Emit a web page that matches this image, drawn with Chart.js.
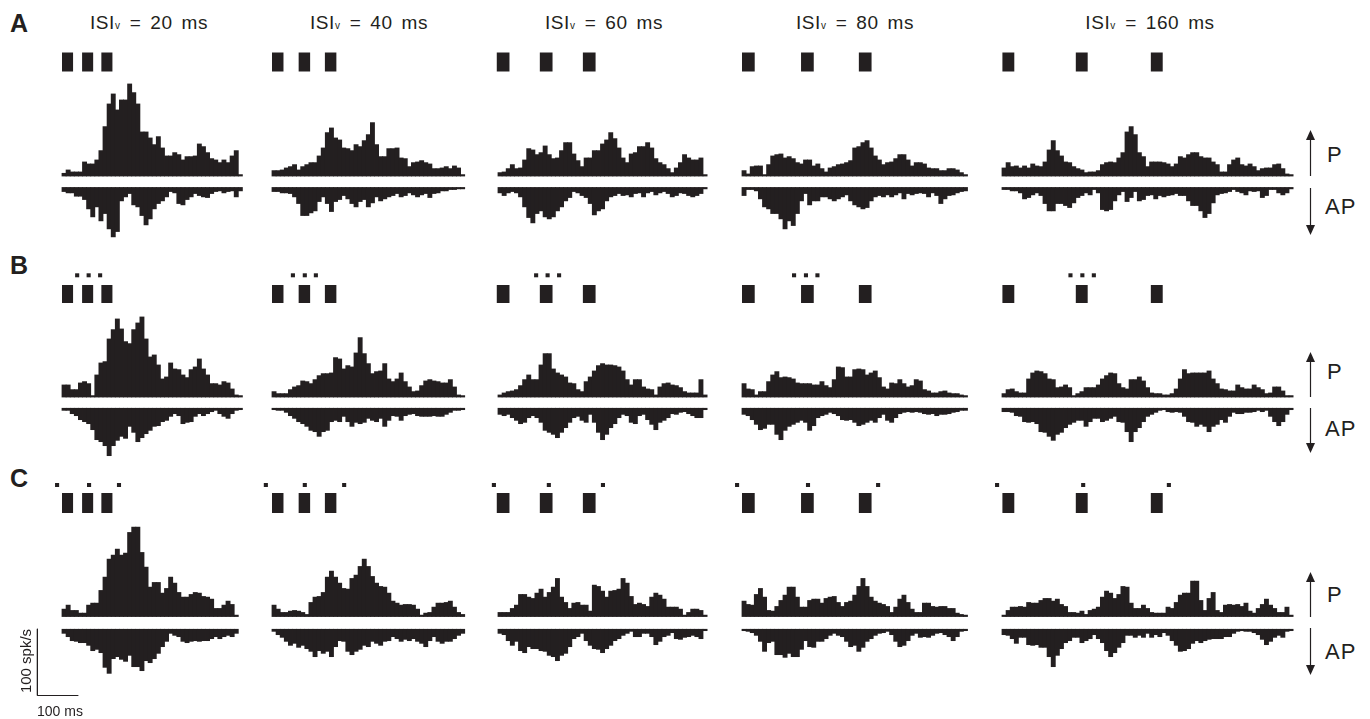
<!DOCTYPE html>
<html>
<head>
<meta charset="utf-8">
<script src="https://cdn.jsdelivr.net/npm/chart.js@4.4.1/dist/chart.umd.min.js"></script>
<style>
  body { margin: 0; background: #fff; }
  #fig { position: relative; width: 1370px; height: 719px; overflow: hidden;
         font-family: 'Liberation Sans', Arial, sans-serif; color: #231f20; }
  #fig canvas { position: absolute; }
  #fig svg { position: absolute; left: 0; top: 0; }
  .lbl { position: absolute; white-space: nowrap; line-height: 1; }
  .title { font-size: 19px; letter-spacing: 0.6px; word-spacing: 3px; transform: translateX(-50%); }
  .title .v { font-size: 10px; letter-spacing: 0; margin-right: 1px; }
  .row { font-size: 25px; font-weight: bold; }
  .dir { font-size: 22px; letter-spacing: 1px; }
  .scale { font-size: 14px; }
  .scale.rot { font-size: 15px; transform: translate(-50%, -50%) rotate(-90deg); }
</style>
</head>
<body>
<div id="fig">
  <svg id="arrows" width="1370" height="719"></svg>
</div>
<script>
// ---- data (spk/s per 10 ms bin) ----
const BIN_MS = 10;
const isiValues = [20, 40, 60, 80, 160];

// stimulus onsets (ms from start of histogram) and duration, one per column
const stimOnsets = [[0, 49, 96], [0, 65, 129], [-3, 102, 207], [0, 144, 285], [1, 180, 363]];
const stimDur = [27, 28, 31, 31, 29];
// small markers above the stimuli (centre, ms)
const dotsB = [[37, 65, 93], [51, 80, 107], [93, 121, 149], [127, 156, 184], [167, 196, 224]];
const dotsC = [[-12, 66, 139], [-15, 80, 176], [-10, 124, 256], [-12, 161, 332], [-12, 198, 407]];

// row A
const pA1 = [4,9,6,6,6,21,18,18,24,38,74,108,123,99,114,114,138,125,108,66,66,57,47,59,42,30,30,35,32,24,29,29,30,48,44,35,26,24,20,24,20,30,38,2];
const apA1 = [6,8,8,13,13,18,32,44,29,50,39,62,74,66,20,14,9,26,29,42,56,47,32,24,20,14,6,8,24,26,18,14,9,12,14,15,9,6,5,8,6,5,14,5];
const pA2 = [8,8,9,12,14,17,9,14,17,20,20,30,42,65,72,57,54,42,41,38,47,44,53,62,80,47,29,29,41,41,42,27,26,14,20,21,23,20,18,11,11,12,14,11,15,12,2];
const apA2 = [6,6,8,8,9,14,24,42,42,38,35,21,14,24,36,21,18,12,17,24,29,21,18,29,23,14,20,17,14,12,9,14,12,8,11,14,11,9,15,9,8,5,5,3,3,2,2];
const pA3 = [5,6,11,17,11,12,24,41,39,32,35,45,32,26,27,38,50,50,33,23,14,27,27,38,38,48,54,65,56,42,27,20,33,35,44,44,50,42,26,20,17,11,5,12,20,32,27,24,24,27,2];
const apA3 = [8,12,8,6,8,14,29,45,53,39,35,44,47,44,35,29,20,15,6,8,12,15,24,41,35,32,20,14,12,9,12,11,14,9,8,14,8,6,11,8,6,9,14,12,8,9,12,14,12,9,2];
const pA4 = [8,3,14,15,15,2,17,30,32,33,27,29,26,20,18,24,24,15,18,11,6,12,14,17,18,20,23,42,44,50,53,42,30,24,17,20,21,26,32,32,24,15,20,20,18,12,11,11,8,8,11,11,9,5,2];
const apA4 = [12,3,3,5,17,29,32,39,39,47,62,50,57,39,20,9,26,20,20,14,14,17,20,17,14,11,20,26,29,32,30,20,14,12,14,11,14,11,8,17,9,11,9,8,9,14,8,12,24,17,12,11,8,6,5];
const pA5 = [12,20,14,15,12,15,12,18,15,14,21,39,53,38,30,21,20,14,11,9,5,6,6,8,17,20,21,20,27,35,66,74,62,35,29,14,21,21,21,20,18,14,18,29,27,32,35,35,29,27,27,21,17,6,6,17,24,27,17,15,18,14,8,11,12,12,17,18,11,3,2];
const apA5 = [3,3,5,5,8,17,15,11,8,12,24,35,35,24,24,27,30,23,15,12,8,11,3,8,33,35,33,20,11,6,21,15,6,20,18,12,11,17,12,14,12,11,9,12,12,20,27,27,35,45,39,23,11,9,8,6,3,6,8,11,5,6,5,15,12,3,3,8,11,8,2];

// row B
const pB1 = [18,18,11,11,21,23,20,2,33,51,53,87,101,117,102,83,80,101,111,120,87,60,63,48,27,30,51,42,41,33,29,41,45,57,42,33,20,20,18,23,21,12,3,2];
const apB1 = [3,3,8,11,17,20,23,32,47,50,56,71,56,48,42,45,27,36,50,44,38,33,27,26,20,18,12,8,11,23,21,20,12,8,11,8,5,3,8,12,15,8,3,2];
const pB2 = [8,5,5,5,11,15,17,24,23,20,26,32,35,35,36,59,57,42,47,45,66,89,65,50,35,38,39,50,27,23,27,36,23,15,8,9,17,24,26,24,23,21,21,26,15,3,2];
const apB2 = [2,3,3,6,11,15,20,23,27,33,35,42,35,33,20,18,20,12,20,27,21,23,21,15,18,20,15,27,18,11,12,18,11,9,8,11,12,12,12,11,12,12,9,6,3,3,2];
const pB3 = [3,6,8,9,11,17,26,33,26,26,48,65,65,42,36,33,30,21,20,11,8,23,30,39,47,50,48,48,47,45,39,26,18,26,26,15,12,11,3,15,20,21,18,17,14,8,6,6,6,26,3];
const apB3 = [9,11,9,14,18,23,21,14,11,14,21,33,36,39,44,36,29,21,14,12,18,21,9,21,36,47,39,29,23,14,9,11,21,23,11,9,17,24,32,21,18,14,8,9,6,5,8,11,14,14,2];
const pB4 = [20,12,11,3,8,8,23,33,38,29,30,29,27,21,20,20,20,18,18,23,17,14,26,45,44,30,30,41,42,41,33,36,39,29,15,12,21,20,26,20,15,17,26,24,11,9,6,6,8,9,6,5,5,3,2];
const apB4 = [9,11,17,24,32,30,24,24,39,47,33,27,24,21,18,21,33,26,14,11,9,6,8,11,17,18,17,21,26,24,21,18,21,14,9,18,21,14,8,6,5,6,5,6,8,9,8,11,9,9,8,6,5,3,3];
const pB5 = [5,11,12,8,6,6,27,36,39,38,35,27,26,14,15,18,14,2,5,8,14,14,14,18,27,32,36,35,20,14,12,26,26,30,24,14,6,5,5,3,3,5,12,27,41,35,36,36,36,36,39,27,20,12,11,9,9,18,14,12,12,18,14,11,5,6,15,15,9,2,2];
const apB5 = [5,5,6,11,12,20,21,20,23,35,36,42,48,39,36,29,24,21,18,18,27,20,15,15,20,18,15,12,20,21,35,50,35,29,20,12,9,6,3,2,5,6,5,6,12,20,21,27,24,27,35,27,24,17,21,12,6,8,8,6,6,5,3,5,3,12,20,26,20,9,2];

// row C
const pC1 = [11,17,9,9,5,5,17,20,20,39,59,86,92,101,92,95,126,134,134,96,74,44,51,51,35,42,59,50,36,29,29,33,36,35,30,29,26,12,12,17,23,18,2];
const apC1 = [6,11,17,18,20,20,24,32,30,35,57,66,44,41,45,48,39,56,56,62,47,50,44,36,26,18,6,9,11,18,20,18,17,18,17,17,14,11,14,11,9,11,6];
const pC2 = [17,11,6,6,8,9,8,6,3,21,29,30,36,59,68,59,50,42,41,57,62,75,86,75,60,50,45,44,35,23,20,17,18,18,17,11,2,5,6,14,20,20,21,23,14,6,3];
const apC2 = [3,8,12,18,24,21,27,24,29,33,41,32,36,33,41,26,17,18,33,38,33,30,24,26,18,21,24,18,17,11,14,18,15,17,14,18,21,26,17,11,18,21,18,18,14,9,6];
const pC3 = [6,6,6,12,17,33,33,29,27,35,41,29,36,44,57,29,21,12,20,21,17,17,8,47,45,38,29,38,39,41,57,50,30,18,20,18,15,29,35,32,26,14,14,14,11,2,6,11,11,9,2];
const apC3 = [6,8,17,24,18,32,35,26,29,29,32,33,39,41,47,39,36,26,14,11,6,17,24,29,30,35,29,24,17,14,9,6,3,11,11,6,6,11,23,18,11,9,5,14,15,12,11,9,11,14,2];
const pC4 = [23,18,17,33,42,29,9,8,15,24,32,44,44,29,14,14,24,26,26,20,27,29,30,21,15,21,23,32,45,57,45,29,23,20,18,15,6,14,26,32,21,11,6,6,20,20,15,14,15,15,12,12,5,3,2];
const apC4 = [2,3,5,9,18,33,20,18,38,38,42,36,41,41,30,17,26,27,18,18,14,9,6,9,11,18,26,24,33,27,18,14,9,6,5,3,8,18,26,24,17,9,6,12,11,12,9,6,5,8,11,17,11,3,2];
const pC5 = [2,9,14,14,15,14,21,20,20,24,27,27,23,26,18,15,6,6,5,8,3,9,11,14,29,38,35,27,33,45,44,20,12,12,17,12,6,5,5,5,14,12,21,32,35,35,53,53,24,9,27,36,9,6,17,18,17,18,15,20,8,5,12,18,26,17,12,6,6,14,2];
const apC5 = [8,9,14,21,12,12,23,24,23,27,27,41,56,39,29,20,17,12,12,20,17,14,8,14,20,32,41,35,27,20,9,9,12,9,12,6,12,8,11,5,9,17,24,33,32,29,21,17,20,17,15,14,14,14,11,11,6,3,2,3,3,5,8,15,23,18,12,9,12,3,2];

const histP = [[pA1, pA2, pA3, pA4, pA5], [pB1, pB2, pB3, pB4, pB5], [pC1, pC2, pC3, pC4, pC5]];
const histAP = [[apA1, apA2, apA3, apA4, apA5], [apB1, apB2, apB3, apB4, apB5], [apC1, apC2, apC3, apC4, apC5]];

// ---- layout ----
const INK = '#231f20';
const PX_PER_MS = 0.41;
const PX_PER_RATE = 1 / 1.5;      // 100 spk/s is about 67 px
const colStart = [62, 272, 498, 742, 1002];
const titleX = [149, 369, 604, 855, 1150];
const rows = [
  { name: 'A', top: 40,  height: 205, base: 176,   apBase: 187.5, stimY: 62,  stimH: 19, dots: null,  dotY: 0,     letterTop: 11,  pTop: 144, apTop: 196, arrow: [130, 176, 188, 235] },
  { name: 'B', top: 262, height: 200, base: 397,   apBase: 408.3, stimY: 294, stimH: 18, dots: dotsB, dotY: 275.3, letterTop: 253, pTop: 361, apTop: 418, arrow: [352, 397, 408, 453] },
  { name: 'C', top: 475, height: 227, base: 616.5, apBase: 629.3, stimY: 503, stimH: 20, dots: dotsC, dotY: 485,   letterTop: 466, pTop: 584, apTop: 641, arrow: [572, 617, 628, 675] }
];

const fig = document.getElementById('fig');

function segment(x0, x1, y, width) {
  return {
    type: 'line',
    data: [{ x: x0, y: y }, { x: x1, y: y }],
    borderColor: INK,
    borderWidth: width,
    borderCapStyle: 'butt',
    pointRadius: 0,
    fill: false
  };
}

function makePanel(r, c) {
  const row = rows[r];
  const pVals = histP[r][c];
  const apVals = histAP[r][c];
  const margin = 30;
  const left = colStart[c] - margin;
  const width = Math.ceil(margin + pVals.length * BIN_MS * PX_PER_MS + 12);

  const canvas = document.createElement('canvas');
  canvas.width = width;
  canvas.height = row.height;
  canvas.style.left = left + 'px';
  canvas.style.top = row.top + 'px';
  canvas.style.width = width + 'px';
  canvas.style.height = row.height + 'px';
  fig.appendChild(canvas);

  const xMin = -margin / PX_PER_MS;
  const xMax = xMin + width / PX_PER_MS;
  // pixel row on the page -> rate value relative to the P baseline
  const toVal = y => (row.base - y) / PX_PER_RATE;
  const gap = toVal(row.apBase);

  const barStyle = {
    type: 'bar',
    backgroundColor: INK,
    borderWidth: 0,
    grouped: false,
    barThickness: BIN_MS * PX_PER_MS,
    inflateAmount: 0.4
  };

  const datasets = [
    Object.assign({ data: pVals.map((v, i) => ({ x: i * BIN_MS + BIN_MS / 2, y: [0, v] })) }, barStyle),
    Object.assign({ data: apVals.map((v, i) => ({ x: i * BIN_MS + BIN_MS / 2, y: [gap, gap - v] })) }, barStyle)
  ];

  stimOnsets[c].forEach(t => datasets.push(segment(t, t + stimDur[c], toVal(row.stimY), row.stimH)));
  if (row.dots) {
    row.dots[c].forEach(m => datasets.push(segment(m - 5, m + 5, toVal(row.dotY), 4)));
  }

  // scale bar: 100 spk/s by 100 ms, under the first C panel
  if (r === 2 && c === 0) {
    const yb = toVal(695.5);
    datasets.push({
      type: 'line',
      data: [{ x: -60, y: yb + 100 }, { x: -60, y: yb }, { x: 40, y: yb }],
      borderColor: INK,
      borderWidth: 1,
      pointRadius: 0,
      fill: false
    });
  }

  new Chart(canvas.getContext('2d'), {
    type: 'bar',
    data: { datasets: datasets },
    options: {
      responsive: false,
      animation: false,
      devicePixelRatio: 1,
      events: [],
      layout: { padding: 0 },
      plugins: { legend: { display: false }, tooltip: { enabled: false } },
      scales: {
        x: { type: 'linear', min: xMin, max: xMax, offset: false, display: false, ticks: { stepSize: 100000 } },
        y: { type: 'linear', min: toVal(row.top + row.height), max: toVal(row.top), display: false, ticks: { stepSize: 100000 } }
      }
    }
  });
}

function addLabel(html, cls, left, top) {
  const d = document.createElement('div');
  d.className = 'lbl ' + cls;
  d.innerHTML = html;
  d.style.left = left + 'px';
  d.style.top = top + 'px';
  fig.appendChild(d);
}

const svg = document.getElementById('arrows');
function addArrow(x, yFrom, yTip) {
  const dir = yTip < yFrom ? -1 : 1;
  const head = 10;
  const ns = 'http://www.w3.org/2000/svg';
  const line = document.createElementNS(ns, 'line');
  line.setAttribute('x1', x); line.setAttribute('x2', x);
  line.setAttribute('y1', yFrom); line.setAttribute('y2', yTip - dir * head);
  line.setAttribute('stroke', INK); line.setAttribute('stroke-width', 1.2);
  svg.appendChild(line);
  const tri = document.createElementNS(ns, 'polygon');
  tri.setAttribute('points', `${x},${yTip} ${x - 4.5},${yTip - dir * head} ${x + 4.5},${yTip - dir * head}`);
  tri.setAttribute('fill', INK);
  svg.appendChild(tri);
}

isiValues.forEach((v, c) => {
  addLabel(`ISI<span class="v">v</span> = ${v} ms`, 'title', titleX[c], 13);
});

rows.forEach((row, r) => {
  addLabel(row.name, 'row', 10, row.letterTop);
  addLabel('P', 'dir', 1327, row.pTop);
  addLabel('AP', 'dir', 1325, row.apTop);
  addArrow(1310.5, row.arrow[1], row.arrow[0]);
  addArrow(1310.5, row.arrow[2], row.arrow[3]);
  for (let c = 0; c < 5; c++) makePanel(r, c);
});

addLabel('100 spk/s', 'scale rot', 25, 661);
addLabel('100 ms', 'scale', 37, 704);
</script>
</body>
</html>
